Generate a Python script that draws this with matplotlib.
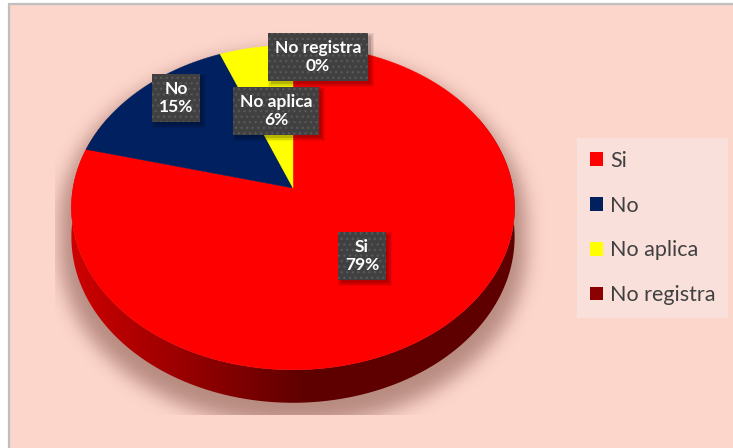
import numpy as np
import matplotlib.pyplot as plt
from matplotlib.patches import Polygon, Rectangle, Patch
from matplotlib.path import Path

# pie data (percent)
categories = ['Si', 'No', 'No aplica', 'No registra']
values = [79, 15, 6, 0]
colors = ['#FF0000', '#002060', '#FFFF00', '#8B0000']

# data label box centres, pixel coordinates
label_xy = [(362, 256), (176, 98), (276, 111), (318, 57)]

W, H = 733, 448
cx, cy = 293, 188          # pie centre on the top face
rx, ry = 220, 160
persp = 0.12               # fake perspective
depth = 29                 # thickness of the disc

plt.rcParams['hatch.linewidth'] = 1.0


def project(theta, z=0.0, scale=1.0, dx=0.0, dy=0.0):
    # theta measured clockwise from 12 o'clock
    u = np.sin(theta) * scale
    v = -np.cos(theta) * scale
    d = 1 - persp * v
    return np.column_stack([cx + dx + rx * u / d, cy + dy + (ry * v + depth * z) / d])


fig = plt.figure(figsize=(W / 100, H / 100), dpi=100)
fig.patch.set_facecolor('white')
ax = fig.add_axes([0, 0, 1, 1])
ax.set_xlim(0, W)
ax.set_ylim(H, 0)
ax.axis('off')

# chart area
ax.add_patch(Rectangle((8.5, 4.5), W + 20, H + 20, fc='#FCD5CB', ec='#BFBFBF', lw=1.6, zorder=0))

# soft shadow under the disc
full = np.linspace(0, 2 * np.pi, 200)
gx, gy = np.meshgrid(np.arange(W) + 0.5, np.arange(H) + 0.5)
pts = np.column_stack([gx.ravel(), gy.ravel()])
mask = np.zeros(W * H, bool)
for z in np.linspace(0, 1, 6):
    mask |= Path(project(full, z, scale=1.05, dy=12)).contains_points(pts)
mask = mask.reshape(H, W).astype(float)
sig = 9
k = np.exp(-0.5 * (np.arange(-3 * sig, 3 * sig + 1) / sig) ** 2)
k /= k.sum()
blur = np.apply_along_axis(lambda r: np.convolve(r, k, mode='same'), 1, mask)
blur = np.apply_along_axis(lambda c: np.convolve(c, k, mode='same'), 0, blur)
blur[gy > 415] = 0
blur[gx < 55] = 0
shadow = np.zeros((H, W, 4))
shadow[..., 0] = 0.55
shadow[..., 1] = 0.36
shadow[..., 2] = 0.32
shadow[..., 3] = 0.6 * blur
ax.imshow(shadow, extent=(0, W, H, 0), zorder=1, interpolation='bilinear')

# side wall: one outline filled with a left-to-right dark red gradient
side = np.linspace(0.35 * np.pi, 1.65 * np.pi, 300)
wall = Polygon(np.vstack([project(side, 0), project(side, 1)[::-1]]), closed=True,
               fc='none', ec='none')
ax.add_patch(wall)
t = np.clip((np.arange(W) + 0.5 - 75) / 230, 0, 1)
grad = np.zeros((1, W, 3))
grad[0, :, 0] = 0.80 - 0.43 * t
wall_img = ax.imshow(grad, extent=(0, W, H, 0), aspect='auto', zorder=2,
                     interpolation='bilinear')
wall_img.set_clip_path(wall)

# top face wedges
total = sum(values)
start = 0.0
for val, col in zip(values, colors):
    frac = val / total
    if frac > 0:
        th = np.linspace(2 * np.pi * start, 2 * np.pi * (start + frac), 120)
        poly = np.vstack([[cx, cy], project(th, 0)])
        ax.add_patch(Polygon(poly, closed=True, fc=col, ec=col, lw=0.3,
                             joinstyle='round', zorder=3))
    start += frac

# data labels
labels = []
for (x, y), name, val in zip(label_xy, categories, values):
    txt = ax.text(x, y, f'{name}\n{val:.0f}%', ha='center', va='center', ma='center',
                  fontsize=12.5, fontweight='bold', family='Lato', color='white',
                  linespacing=1.2, zorder=5,
                  bbox=dict(boxstyle='square,pad=0.4', fc='#404040', ec='#575757',
                            lw=0, hatch='...'))
    labels.append(txt)

# drop shadows behind the label boxes
fig.canvas.draw()
inv = ax.transData.inverted()
for txt in labels:
    bb = txt.get_bbox_patch().get_window_extent()
    (x0, y1), (x1, y0) = inv.transform([[bb.x0, bb.y0], [bb.x1, bb.y1]])
    for grow, a in [(3, 0.06), (1.5, 0.1), (0, 0.15)]:
        ax.add_patch(Rectangle((x0 + 3 - grow, y0 + 3 - grow), x1 - x0 + 2 * grow,
                               y1 - y0 + 2 * grow, fc='black', ec='none', alpha=a, zorder=4))

handles = [Patch(fc=c, ec='none') for c in colors]
leg = ax.legend(handles, categories, loc='upper left', bbox_to_anchor=(577 / W, 1 - 138 / H),
                bbox_transform=ax.transAxes, borderaxespad=0, frameon=True, fancybox=False,
                labelspacing=1.15, handlelength=0.6, handleheight=0.6,
                handletextpad=0.33, borderpad=0.6, prop={'family': 'Lato', 'size': 15.5})
leg.get_frame().set_facecolor('#F9E0DA')
leg.get_frame().set_edgecolor('none')
leg.get_frame().set_alpha(1)
for t in leg.get_texts():
    t.set_color('#404040')

fig.savefig('out.png', dpi=100, facecolor=fig.get_facecolor())
